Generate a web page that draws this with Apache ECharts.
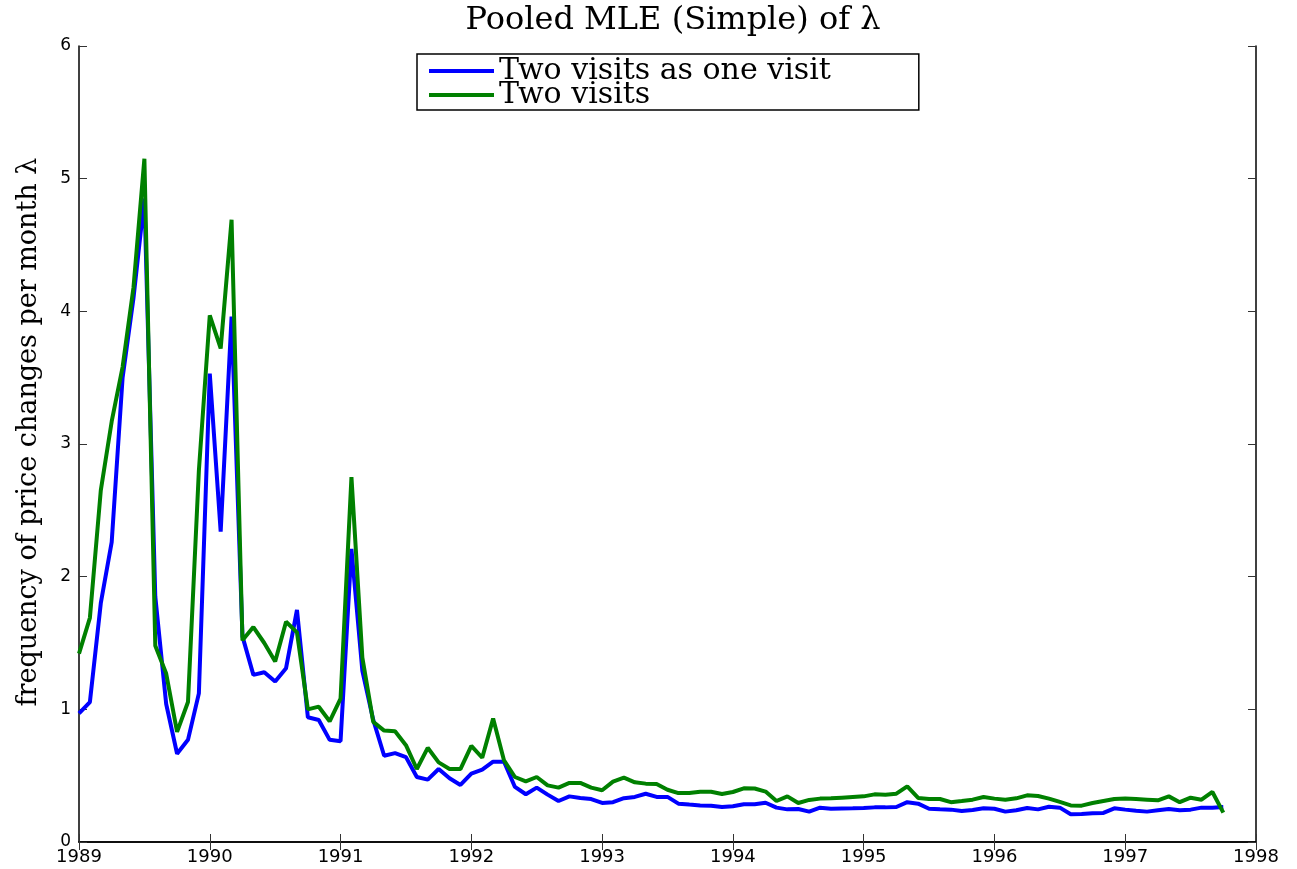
<!DOCTYPE html>
<html>
<head>
<meta charset="utf-8">
<title>Pooled MLE (Simple) of λ</title>
<script src="https://cdn.jsdelivr.net/npm/echarts@6/dist/echarts.min.js"></script>
<style>
  html, body { margin: 0; padding: 0; background: #fff; }
  #main { width: 1297px; height: 869px; }
</style>
</head>
<body>
<div id="main"></div>
<script>
// monthly observations, first one is January 1989
var startYear = 1989;
var yearTicks = [1989, 1990, 1991, 1992, 1993, 1994, 1995, 1996, 1997, 1998];

// "Two visits as one visit"
var oneVisit = [
  0.97, 1.055, 1.80, 2.26, 3.50, 4.10, 4.85, 1.85, 1.04, 0.665, 0.77, 1.12,
  3.53, 2.34, 3.96, 1.55, 1.26, 1.28, 1.21, 1.31, 1.75, 0.94, 0.92, 0.77,
  0.76, 2.21, 1.29, 0.92, 0.65, 0.67, 0.64, 0.49, 0.47, 0.55, 0.48, 0.43,
  0.515, 0.545, 0.605, 0.605, 0.415, 0.36, 0.41, 0.357, 0.309, 0.344, 0.332, 0.324,
  0.294, 0.30, 0.33, 0.34, 0.364, 0.34, 0.34, 0.289, 0.282, 0.276, 0.274, 0.264,
  0.269, 0.284, 0.284, 0.296, 0.259, 0.246, 0.249, 0.229, 0.259, 0.251, 0.253, 0.254,
  0.256, 0.261, 0.261, 0.264, 0.30, 0.289, 0.251, 0.246, 0.244, 0.234, 0.241, 0.254,
  0.251, 0.229, 0.239, 0.256, 0.246, 0.266, 0.259, 0.209, 0.211, 0.216, 0.219, 0.254,
  0.244, 0.236, 0.229, 0.239, 0.249, 0.239, 0.244, 0.259, 0.259, 0.264
];

// "Two visits"
var twoVisits = [
  1.42, 1.69, 2.65, 3.17, 3.58, 4.18, 5.15, 1.48, 1.27, 0.83, 1.055, 2.80,
  3.97, 3.72, 4.69, 1.52, 1.62, 1.50, 1.36, 1.66, 1.58, 1.00, 1.02, 0.91,
  1.08, 2.75, 1.39, 0.905, 0.84, 0.835, 0.73, 0.55, 0.71, 0.60, 0.55, 0.55,
  0.725, 0.635, 0.93, 0.615, 0.49, 0.457, 0.49, 0.427, 0.41, 0.445, 0.445, 0.41,
  0.39, 0.455, 0.485, 0.45, 0.44, 0.437, 0.394, 0.369, 0.369, 0.379, 0.379, 0.362,
  0.377, 0.405, 0.403, 0.38, 0.309, 0.344, 0.294, 0.317, 0.327, 0.329, 0.334, 0.339,
  0.344, 0.359, 0.357, 0.364, 0.42, 0.332, 0.324, 0.324, 0.30, 0.309, 0.319, 0.339,
  0.327, 0.319, 0.329, 0.352, 0.347, 0.327, 0.302, 0.276, 0.274, 0.294, 0.309, 0.324,
  0.327, 0.324, 0.319, 0.314, 0.344, 0.30, 0.334, 0.319, 0.377, 0.221
];

function toPairs(values) {
  return values.map(function (v, i) { return [startYear + i / 12, v]; });
}

var myChart = echarts.init(document.getElementById('main'));

var tickStyle = { show: true, inside: true, length: 8, lineStyle: { color: '#333', width: 1 } };
var lineAxis = { show: true, lineStyle: { color: '#000', width: 1.5 } };

var option = {
  animation: false,
  title: {
    text: 'Pooled MLE (Simple) of λ',
    left: 668,
    textAlign: 'center',
    top: 0,
    textStyle: { fontFamily: 'DejaVu Serif', fontWeight: 'normal', fontSize: 32, color: '#000' }
  },
  legend: {
    orient: 'vertical',
    left: 417,
    top: 54,
    padding: [2, 88, 0, 12],
    itemGap: -6,
    itemWidth: 65,
    itemHeight: 4,
    icon: 'rect',
    borderColor: '#000',
    borderWidth: 1.5,
    borderRadius: 0,
    backgroundColor: '#fff',
    textStyle: { fontFamily: 'DejaVu Serif', fontSize: 30, color: '#000' },
    data: ['Two visits as one visit', 'Two visits']
  },
  grid: { left: 79, right: 41, top: 46, bottom: 27, containLabel: false },
  xAxis: [{
    type: 'value',
    min: 1989,
    max: 1998,
    interval: 1,
    axisLine: lineAxis,
    axisTick: tickStyle,
    splitLine: { show: false },
    axisLabel: {
      margin: 6,
      fontFamily: 'DejaVu Sans',
      fontSize: 18,
      color: '#000',
      showMinLabel: true,
      showMaxLabel: true,
      formatter: function (v) { return yearTicks.indexOf(v) >= 0 ? String(v) : ''; }
    }
  }, {
    type: 'value',
    position: 'top',
    min: 1989,
    max: 1998,
    interval: 1,
    axisLine: lineAxis,
    axisTick: tickStyle,
    axisLabel: { show: false },
    splitLine: { show: false }
  }],
  yAxis: [{
    type: 'value',
    min: 0,
    max: 6,
    interval: 1,
    name: 'frequency of price changes per month λ',
    nameLocation: 'middle',
    nameRotate: 90,
    nameGap: 37,
    nameTextStyle: { fontFamily: 'DejaVu Serif', fontSize: 27, color: '#000', padding: [0, 0, 0, 24] },
    axisLine: lineAxis,
    axisTick: tickStyle,
    splitLine: { show: false },
    axisLabel: { margin: 8, fontFamily: 'DejaVu Sans', fontSize: 17, color: '#000' }
  }, {
    type: 'value',
    position: 'right',
    min: 0,
    max: 6,
    interval: 1,
    axisLine: lineAxis,
    axisTick: tickStyle,
    axisLabel: { show: false },
    splitLine: { show: false }
  }],
  series: [{
    name: 'Two visits as one visit',
    type: 'line',
    symbol: 'none',
    color: '#0000ff',
    lineStyle: { width: 4, color: '#0000ff' },
    data: toPairs(oneVisit)
  }, {
    name: 'Two visits',
    type: 'line',
    symbol: 'none',
    color: '#008000',
    lineStyle: { width: 4, color: '#008000' },
    data: toPairs(twoVisits)
  }]
};

myChart.setOption(option);
</script>
</body>
</html>
